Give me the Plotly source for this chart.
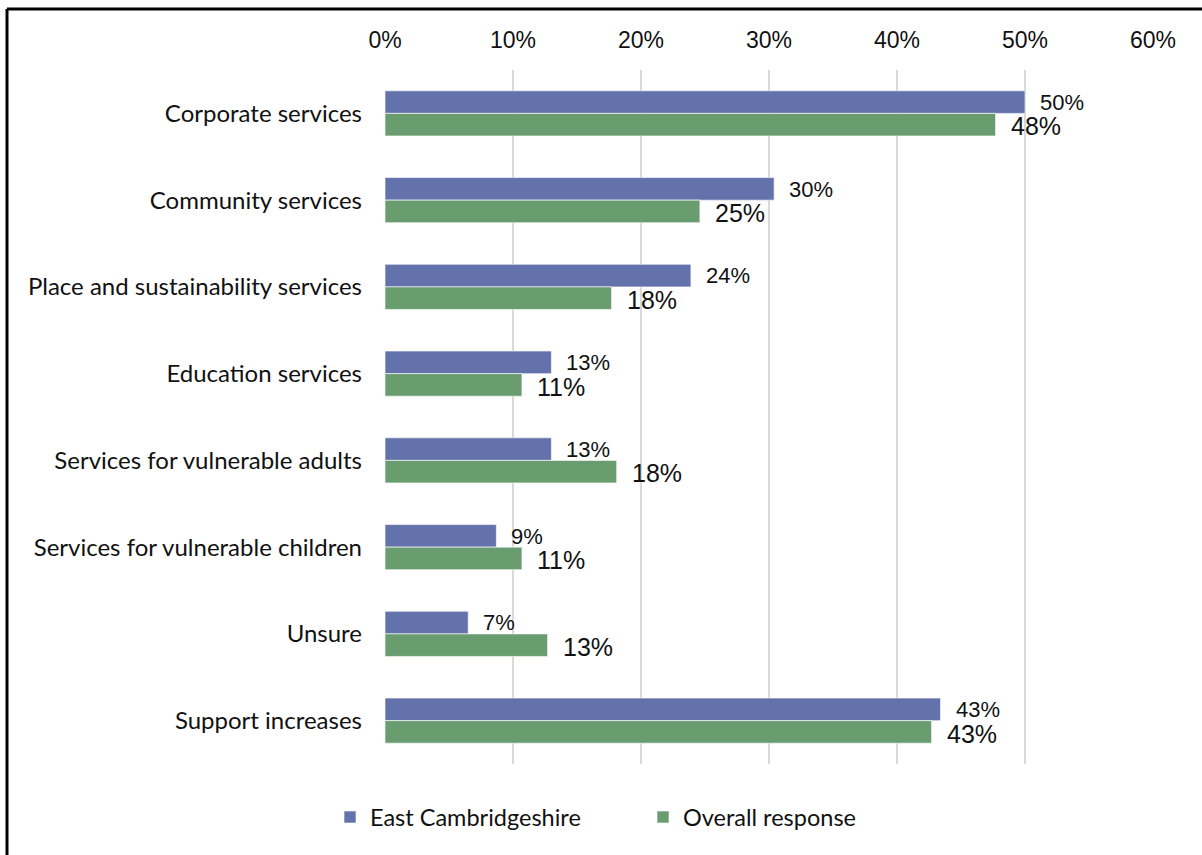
import plotly.graph_objects as go

categories = [
    "Corporate services",
    "Community services",
    "Place and sustainability services",
    "Education services",
    "Services for vulnerable adults",
    "Services for vulnerable children",
    "Unsure",
    "Support increases",
]
east_cambs = [0.50, 0.304, 0.239, 0.13, 0.13, 0.087, 0.065, 0.434]
overall = [0.477, 0.246, 0.177, 0.107, 0.181, 0.107, 0.127, 0.427]
east_labels = ["50%", "30%", "24%", "13%", "13%", "9%", "7%", "43%"]
overall_labels = ["48%", "25%", "18%", "11%", "18%", "11%", "13%", "43%"]
tick_vals = [0, 0.1, 0.2, 0.3, 0.4, 0.5, 0.6]
tick_text = ["0%", "10%", "20%", "30%", "40%", "50%", "60%"]

EAST_COLOR = "#6372AB"
OVERALL_COLOR = "#699D70"

fig = go.Figure()
fig.add_trace(go.Bar(
    name="East Cambridgeshire", y=categories, x=east_cambs, orientation="h",
    marker=dict(color=EAST_COLOR, line=dict(color="rgba(255,255,255,0.6)", width=1)),
))
fig.add_trace(go.Bar(
    name="Overall response", y=categories, x=overall, orientation="h",
    marker=dict(color=OVERALL_COLOR, line=dict(color="rgba(255,255,255,0.6)", width=1)),
))

annotations = []
for c, v, t in zip(categories, east_cambs, east_labels):
    annotations.append(dict(x=v, y=c, text=t, xref="x", yref="y", showarrow=False,
                            xanchor="left", yanchor="middle", xshift=13, yshift=11,
                            font=dict(family="Liberation Sans, Arial", size=22, color="#111111")))
for c, v, t in zip(categories, overall, overall_labels):
    annotations.append(dict(x=v, y=c, text=t, xref="x", yref="y", showarrow=False,
                            xanchor="left", yanchor="middle", xshift=13, yshift=-13,
                            font=dict(family="Liberation Sans, Arial", size=25, color="#111111")))

fig.update_layout(
    width=1202, height=855,
    margin=dict(l=385, r=49, t=70, b=91),
    paper_bgcolor="white", plot_bgcolor="white",
    barmode="group", bargap=0.48, bargroupgap=0,
    annotations=annotations,
    showlegend=True,
    legend=dict(orientation="h", x=(643 - 385) / 768, xanchor="center", y=-0.045, yanchor="top",
                font=dict(family="Lato, Inter, sans-serif", size=23.5, color="#111111"),
                traceorder="normal", itemwidth=30, entrywidth=268),
    xaxis=dict(side="top", range=[0, 0.6], tickvals=tick_vals, ticktext=tick_text,
               showgrid=True, gridcolor="#D9D9D9", gridwidth=2, zeroline=False,
               showline=False, ticks="", ticklabelstandoff=16,
               tickfont=dict(family="Liberation Sans, Arial", size=23, color="#111111")),
    yaxis=dict(autorange="reversed", showgrid=False, zeroline=False, showline=False,
               ticks="", ticklabelstandoff=22,
               tickfont=dict(family="Lato, Inter, sans-serif", size=24, color="#111111")),
    shapes=[
        dict(type="line", xref="paper", yref="paper",
             x0=(7 - 385) / 768, x1=(7 - 385) / 768, y0=-0.5, y1=1 + (70 - 9) / 694,
             line=dict(color="black", width=3)),
        dict(type="line", xref="paper", yref="paper",
             x0=(7 - 385) / 768, x1=1.2, y0=1 + (70 - 9) / 694, y1=1 + (70 - 9) / 694,
             line=dict(color="black", width=3)),
    ],
)

fig.write_html("out.html")
